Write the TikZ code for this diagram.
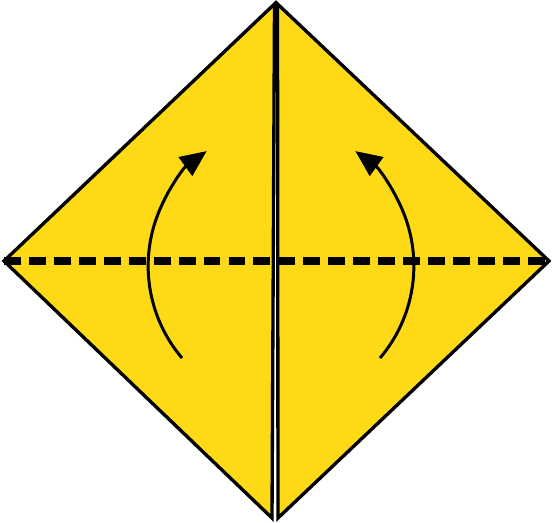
\documentclass[tikz,border=0pt]{standalone}
\usepackage{xcolor}
\usepackage{tikz}
\usetikzlibrary{arrows.meta}
\definecolor{paper}{RGB}{253,217,22}

\begin{document}
\begin{tikzpicture}[
    x=0.02cm, y=0.02cm,
    flap/.style={draw, fill=paper, line width=1.9pt, line join=miter},
    valley/.style={line width=4pt, dash pattern=on 9.6pt off 4.6pt},
    foldarrow/.style={-{Triangle[length=15pt, width=13pt]}, line width=1.7pt}
]
\useasboundingbox (0,0) rectangle (553,522);

% Corners of the two halves
\coordinate (west) at (4,261);
\coordinate (east) at (549,261);
\coordinate (ltop) at (274.5,518);
\coordinate (lbot) at (272,4);
\coordinate (rtop) at (277.5,518);
\coordinate (rbot) at (278,4);

% Left and right flaps
\draw[flap] (west) -- (ltop) -- (lbot) -- cycle;
\draw[flap] (east) -- (rtop) -- (rbot) -- cycle;

% Valley fold line
\draw[valley] (west) -- (east);

% Fold arrows
\coordinate (lstart) at (182,164);
\coordinate (rstart) at (380,164);
\draw[foldarrow] (lstart) arc[start angle=220.4, end angle=126, radius=142];
\draw[foldarrow] (rstart) arc[start angle=-40.4, end angle=54, radius=142];
\end{tikzpicture}
\end{document}
